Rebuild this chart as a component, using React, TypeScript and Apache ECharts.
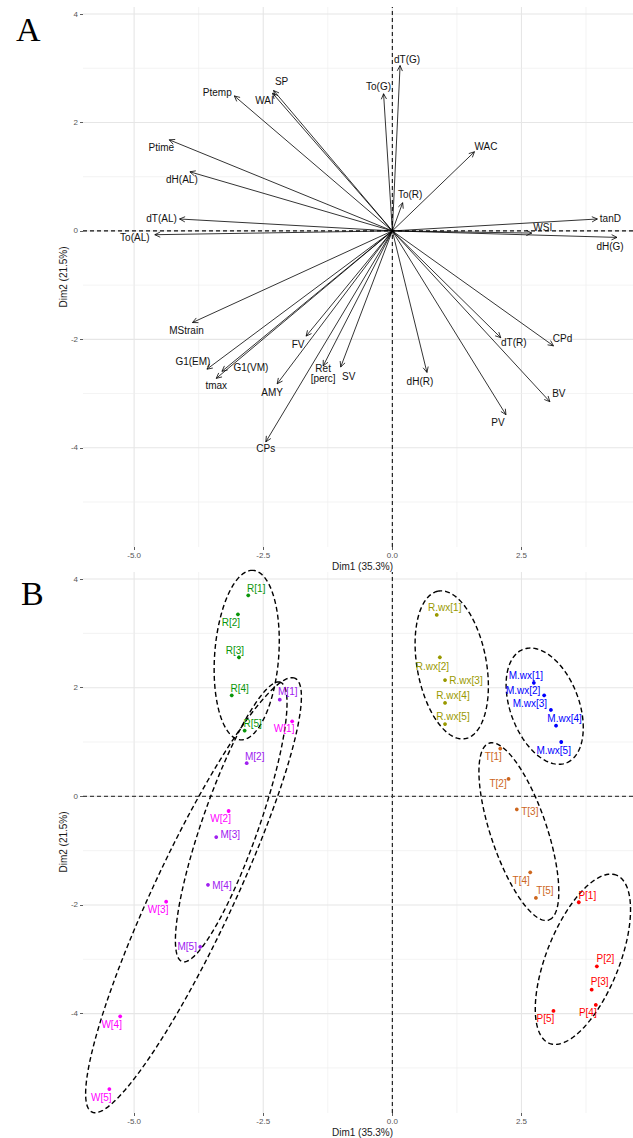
import React, { useEffect, useRef } from "react";
import * as echarts from "echarts";

// ---------- Panel A : variables (arrows) ----------
const varNames = [
  "Ptemp", "SP", "WAI", "Ptime", "dH(AL)", "dT(AL)", "To(AL)", "dT(G)", "To(G)", "WAC",
  "To(R)", "tanD", "WSI", "dH(G)", "MStrain", "G1(EM)", "G1(VM)", "tmax", "FV", "AMY",
  "CPs", "Ret\n[perc]", "SV", "dH(R)", "dT(R)", "CPd", "BV", "PV",
];
const varDim1 = [
  -3.06, -2.30, -2.32, -4.32, -3.92, -4.12, -4.60, 0.15, -0.17, 1.59,
  0.20, 3.97, 2.70, 4.35, -3.87, -3.59, -3.30, -3.41, -1.67, -2.23,
  -2.45, -1.34, -1.00, 0.67, 2.10, 3.12, 3.05, 2.20,
];
const varDim2 = [
  2.49, 2.59, 2.54, 1.68, 1.09, 0.22, -0.07, 3.05, 2.53, 1.46,
  0.52, 0.22, -0.04, -0.12, -1.69, -2.55, -2.59, -2.72, -1.94, -2.82,
  -3.89, -2.49, -2.51, -2.61, -1.97, -2.12, -3.15, -3.39,
];
// label placement (pixel offset from arrow tip)
const varLabelDx = [-17, 8, -8, -8, -8, -18, -20, 7, -5, 11.5, 7.5, 13, 11, -7, -6, -14, 29, 0, -8, -5, 0, 0, 8, -7, 13, 9, 9, -8];
const varLabelDy = [-3, -9, 7, 8, 8, 0, 3, -6, -7, -5, -8, 0, -5.5, 9, 8, -8, -4, 7, 8, 9, 7, 8, 9, 9, 5, -7, -8, 8];

// ---------- Panel B : individuals ----------
const groupNames = ["R", "M", "W", "R.wx", "M.wx", "T", "P"];
const groupColors = ["#0a960a", "#a020f0", "#ff00ff", "#999900", "#0000ff", "#cd661d", "#ff0000"];

const indNames = [
  "R[1]", "R[2]", "R[3]", "R[4]", "R[5]",
  "M[1]", "M[2]", "M[3]", "M[4]", "M[5]",
  "W[1]", "W[2]", "W[3]", "W[4]", "W[5]",
  "R.wx[1]", "R.wx[2]", "R.wx[3]", "R.wx[4]", "R.wx[5]",
  "M.wx[1]", "M.wx[2]", "M.wx[3]", "M.wx[4]", "M.wx[5]",
  "T[1]", "T[2]", "T[3]", "T[4]", "T[5]",
  "P[1]", "P[2]", "P[3]", "P[4]", "P[5]",
];
const indGroup = [
  0, 0, 0, 0, 0, 1, 1, 1, 1, 1, 2, 2, 2, 2, 2, 3, 3, 3, 3, 3,
  4, 4, 4, 4, 4, 5, 5, 5, 5, 5, 6, 6, 6, 6, 6,
];
const indDim1 = [
  -2.79, -2.99, -2.97, -3.11, -2.86,
  -2.18, -2.82, -3.41, -3.57, -3.72,
  -1.94, -3.17, -4.38, -5.27, -5.48,
  0.86, 0.92, 1.02, 1.02, 1.02,
  2.74, 2.94, 3.07, 3.17, 3.27,
  2.09, 2.25, 2.41, 2.67, 2.78,
  3.61, 3.96, 3.86, 3.94, 3.12,
];
const indDim2 = [
  3.70, 3.35, 2.56, 1.86, 1.21,
  1.78, 0.61, -0.75, -1.63, -2.77,
  1.38, -0.27, -1.94, -4.05, -5.39,
  3.34, 2.56, 2.14, 1.72, 1.33,
  2.09, 1.86, 1.59, 1.30, 1.00,
  0.88, 0.32, -0.24, -1.40, -1.87,
  -1.95, -3.13, -3.56, -3.84, -3.95,
];
const indLabelDx = [
  8, -7, -4, 8, 8,
  8, 8, 14, 14, -13,
  -8, -8, -8, -8.5, -8,
  8, -7.5, 21, 8, 8,
  -8, -21, -21, 8.5, -7.5,
  -7, -10.5, 13, -9, 9,
  8.5, 8.5, 8, -8, -8,
];
const indLabelDy = [
  -7, 8, -7, -7, -7,
  -8, -7, -3, 1, 0,
  7, 8, 8, 8, 8,
  -7, 9, 0, -7, -8,
  -7, -5, -6, -7, 8,
  8, 5, 2, 8, -7,
  -7, -8, -8, 8, 8,
];

// concentration ellipses: centre, semi-major vector, semi-minor length
const ellipseGroup = ["R", "R.wx", "M.wx", "T", "P", "W", "M"];
const ellipseCx = [-2.82, 1.15, 2.95, 2.45, 3.69, -3.85, -3.12];
const ellipseCy = [2.60, 2.42, 1.66, -0.65, -3.00, -1.82, -0.47];
const ellipseMajorX = [0.126, -0.267, 0.432, 0.583, 0.661, 1.972, 0.955];
const ellipseMajorY = [1.56, 1.357, -1.040, -1.626, 1.543, 3.991, 2.570];
const ellipseMinor = [0.62, 0.67, 0.66, 0.54, 0.70, 0.77, 0.54];

// ---------- axes ----------
const xTicks = [-5, -2.5, 0, 2.5];
const xMinorTicks = [-3.75, -1.25, 1.25, 3.75];
const yTicks = [-4, -2, 0, 2, 4];
const yMinorTicks = [-5, -3, -1, 1, 3];
const X_MIN = -5.99;
const X_MAX = 4.66;
const Y_MIN = -5.83;
const Y_MAX = 4.13;
const xTitle = "Dim1 (35.3%)";
const yTitle = "Dim2 (21.5%)";

const FONT = '"Liberation Sans", Arial, Helvetica, sans-serif';

function buildOption() {
  const grids = [
    { left: 83, top: 7, width: 550, height: 540 },
    { left: 83, top: 572, width: 550, height: 541 },
  ];
  const xAxes = grids.map((_, gi) => ({
    type: "value",
    gridIndex: gi,
    min: X_MIN,
    max: X_MAX,
    position: "bottom",
    axisLine: { show: false, onZero: false },
    splitLine: { show: false },
    axisTick: { show: true, length: 3, customValues: xTicks, lineStyle: { color: "#333", width: 0.8 } },
    axisLabel: {
      customValues: xTicks,
      formatter: (v: number) => v.toFixed(1),
      fontSize: 8,
      color: "#555",
      fontFamily: FONT,
      margin: 4,
    },
  }));
  const yAxes = grids.map((_, gi) => ({
    type: "value",
    gridIndex: gi,
    min: Y_MIN,
    max: Y_MAX,
    position: "left",
    axisLine: { show: false, onZero: false },
    splitLine: { show: false },
    axisTick: { show: true, length: 3, customValues: yTicks, lineStyle: { color: "#333", width: 0.8 } },
    axisLabel: {
      customValues: yTicks,
      formatter: (v: number) => String(v),
      fontSize: 8,
      color: "#555",
      fontFamily: FONT,
      margin: 5,
    },
  }));

  const gridLineData = [
    ...xMinorTicks.map((v) => [v, 0, 0]),
    ...xTicks.map((v) => [v, 0, 1]),
    ...yMinorTicks.map((v) => [v, 1, 0]),
    ...yTicks.map((v) => [v, 1, 1]),
  ];
  const lineSeg = (api: any, v: number, orient: number) => {
    const p1 = orient === 0 ? api.coord([v, Y_MIN]) : api.coord([X_MIN, v]);
    const p2 = orient === 0 ? api.coord([v, Y_MAX]) : api.coord([X_MAX, v]);
    return { x1: p1[0], y1: p1[1], x2: p2[0], y2: p2[1] };
  };

  const series: any[] = [];
  [0, 1].forEach((gi) => {
    series.push({
      type: "custom",
      xAxisIndex: gi,
      yAxisIndex: gi,
      silent: true,
      z: 1,
      clip: false,
      data: gridLineData,
      renderItem: (_p: any, api: any) => ({
        type: "line",
        shape: lineSeg(api, api.value(0), api.value(1)),
        style: { stroke: api.value(2) ? "#e6e6e6" : "#eeeeee", lineWidth: api.value(2) ? 1.1 : 0.7 },
      }),
    });
    series.push({
      type: "custom",
      xAxisIndex: gi,
      yAxisIndex: gi,
      silent: true,
      z: 2,
      clip: false,
      data: [[0, 0], [0, 1]],
      renderItem: (_p: any, api: any) => ({
        type: "line",
        shape: lineSeg(api, api.value(0), api.value(1)),
        style: {
          stroke: api.value(1) === 1 && gi === 1 ? "#444" : "#111",
          lineWidth: 1.1,
          lineDash: [4, 3],
        },
      }),
    });
  });

  // arrows
  series.push({
    type: "custom",
    xAxisIndex: 0,
    yAxisIndex: 0,
    silent: true,
    z: 3,
    clip: false,
    data: varDim1.map((x, i) => [x, varDim2[i]]),
    renderItem: (params: any, api: any) => {
      const i = params.dataIndex;
      const o = api.coord([0, 0]);
      const t = api.coord([api.value(0), api.value(1)]);
      const ang = Math.atan2(t[1] - o[1], t[0] - o[0]);
      const L = 6;
      const w = Math.PI / 7;
      const h1 = [t[0] - L * Math.cos(ang - w), t[1] - L * Math.sin(ang - w)];
      const h2 = [t[0] - L * Math.cos(ang + w), t[1] - L * Math.sin(ang + w)];
      return {
        type: "group",
        children: [
          { type: "line", shape: { x1: o[0], y1: o[1], x2: t[0], y2: t[1] }, style: { stroke: "#000", lineWidth: 0.8 } },
          { type: "polyline", shape: { points: [h1, t, h2] }, style: { stroke: "#000", lineWidth: 0.8, fill: "none" } },
          {
            type: "text",
            x: t[0] + varLabelDx[i],
            y: t[1] + varLabelDy[i],
            style: {
              text: varNames[i],
              fill: "#111",
              fontSize: 10,
              fontFamily: FONT,
              align: "center",
              verticalAlign: "middle",
              lineHeight: 10,
            },
          },
        ],
      };
    },
  });

  // ellipses
  series.push({
    type: "custom",
    xAxisIndex: 1,
    yAxisIndex: 1,
    silent: true,
    z: 4,
    clip: false,
    data: ellipseCx.map((cx, i) => [cx, ellipseCy[i], ellipseMajorX[i], ellipseMajorY[i], ellipseMinor[i]]),
    renderItem: (_p: any, api: any) => {
      const cx = api.value(0), cy = api.value(1), ux = api.value(2), uy = api.value(3), b = api.value(4);
      const len = Math.hypot(ux, uy);
      const vx = (-uy / len) * b, vy = (ux / len) * b;
      const pts: number[][] = [];
      for (let k = 0; k <= 160; k++) {
        const t = (k / 160) * Math.PI * 2;
        pts.push(api.coord([cx + ux * Math.cos(t) + vx * Math.sin(t), cy + uy * Math.cos(t) + vy * Math.sin(t)]));
      }
      return {
        type: "polyline",
        shape: { points: pts },
        style: { stroke: "#000", lineWidth: 1.4, lineDash: [5, 3], fill: "none" },
      };
    },
  });

  // individuals
  groupNames.forEach((g, gi) => {
    const data: any[] = [];
    indNames.forEach((n, i) => {
      if (indGroup[i] !== gi) return;
      data.push({ name: n, value: [indDim1[i], indDim2[i]], label: { offset: [indLabelDx[i], indLabelDy[i]] } });
    });
    series.push({
      type: "scatter",
      name: g,
      xAxisIndex: 1,
      yAxisIndex: 1,
      silent: true,
      z: 5,
      symbol: "circle",
      symbolSize: 3.8,
      itemStyle: { color: groupColors[gi], opacity: 1 },
      label: {
        show: true,
        position: "inside",
        formatter: "{b}",
        color: groupColors[gi],
        opacity: 1,
        fontSize: 10,
        fontFamily: FONT,
        textBorderWidth: 0,
        textBorderColor: "transparent",
        textShadowBlur: 0,
      },
      data,
    });
  });

  const titleStyle = { fill: "#1a1a1a", fontSize: 10, fontFamily: FONT, align: "center", verticalAlign: "middle" };
  const graphic = [
    { type: "text", left: 16, top: 12, style: { text: "A", fill: "#000", fontSize: 34, fontFamily: '"Liberation Serif", "Times New Roman", serif' } },
    { type: "text", left: 21, top: 576, style: { text: "B", fill: "#000", fontSize: 34, fontFamily: '"Liberation Serif", "Times New Roman", serif' } },
    { type: "text", x: 362.5, y: 566, style: { ...titleStyle, text: xTitle } },
    { type: "text", x: 362.5, y: 1132, style: { ...titleStyle, text: xTitle } },
    { type: "text", x: 63.5, y: 277, rotation: Math.PI / 2, style: { ...titleStyle, text: yTitle } },
    { type: "text", x: 63.5, y: 842, rotation: Math.PI / 2, style: { ...titleStyle, text: yTitle } },
  ];

  return {
    animation: false,
    backgroundColor: "#ffffff",
    grid: grids,
    xAxis: xAxes,
    yAxis: yAxes,
    series,
    graphic,
  };
}

export default function App() {
  const ref = useRef<HTMLDivElement>(null);
  useEffect(() => {
    document.body.style.margin = "0";
    const chart = echarts.init(ref.current as HTMLDivElement, null, { renderer: "svg" });
    chart.setOption(buildOption() as any);
    return () => chart.dispose();
  }, []);
  return <div ref={ref} style={{ width: 633, height: 1138 }} />;
}
